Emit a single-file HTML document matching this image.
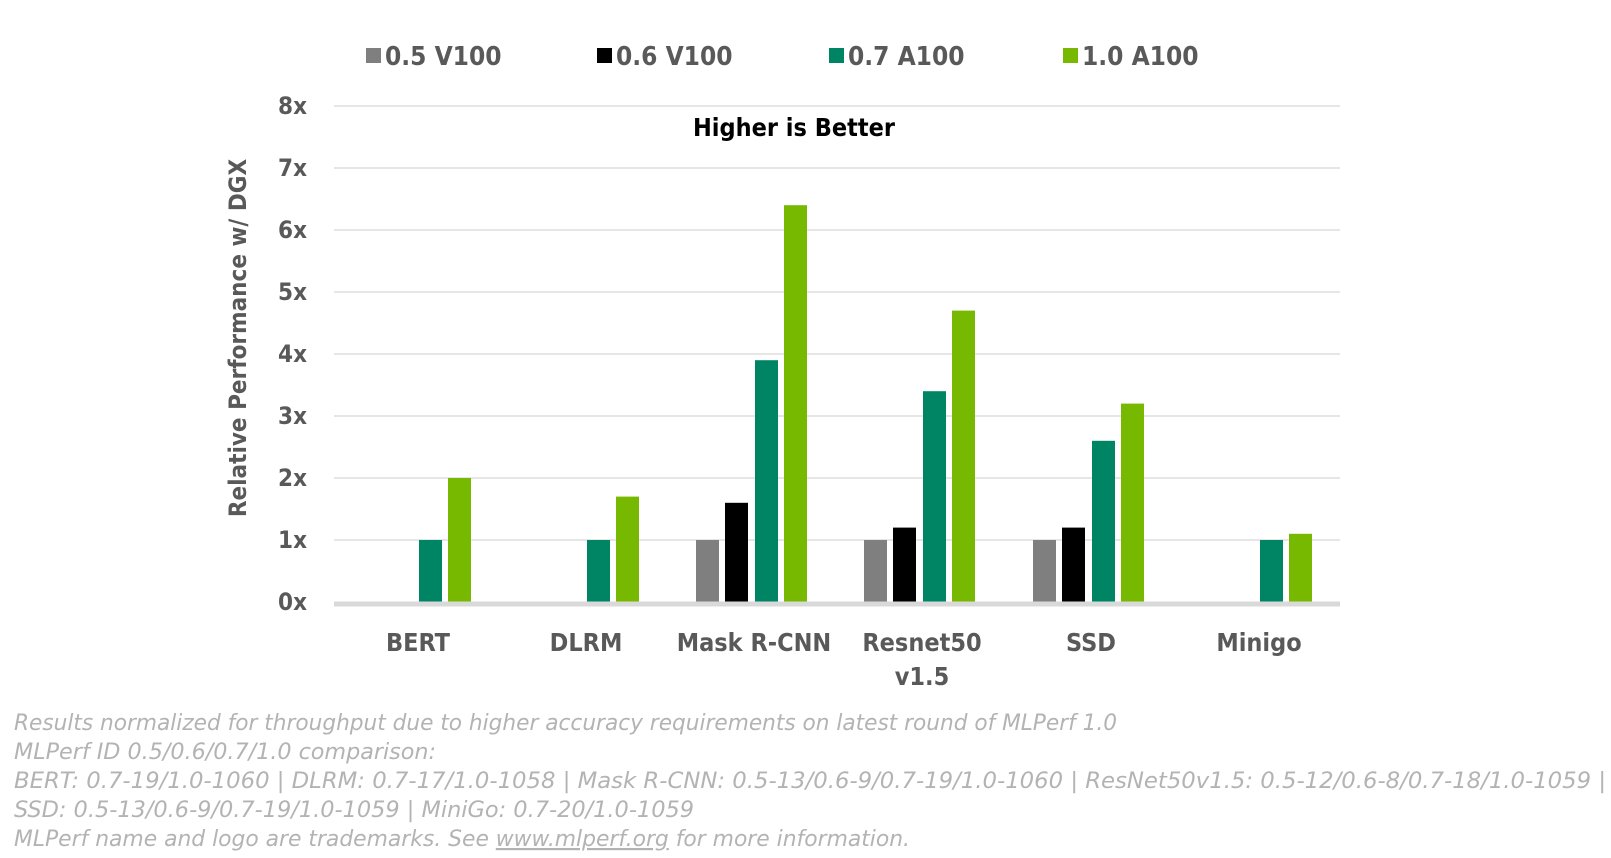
<!DOCTYPE html>
<html><head><meta charset="utf-8"><style>
html,body{margin:0;padding:0;background:#fff;}
svg{display:block;}
</style></head><body>
<svg width="1611" height="858" xmlns="http://www.w3.org/2000/svg" font-family="'DejaVu Sans Condensed','Liberation Sans',sans-serif">
<g stroke="#e6e6e6" stroke-width="2">
<line x1="334" x2="1340" y1="106" y2="106"/>
<line x1="334" x2="1340" y1="168" y2="168"/>
<line x1="334" x2="1340" y1="230" y2="230"/>
<line x1="334" x2="1340" y1="292" y2="292"/>
<line x1="334" x2="1340" y1="354" y2="354"/>
<line x1="334" x2="1340" y1="416" y2="416"/>
<line x1="334" x2="1340" y1="478" y2="478"/>
<line x1="334" x2="1340" y1="540" y2="540"/>
</g>
<g font-size="24" fill="#595959" text-anchor="end" font-weight="bold">
<text x="307" y="114">8x</text>
<text x="307" y="176">7x</text>
<text x="307" y="238">6x</text>
<text x="307" y="300">5x</text>
<text x="307" y="362">4x</text>
<text x="307" y="424">3x</text>
<text x="307" y="486">2x</text>
<text x="307" y="548">1x</text>
<text x="307" y="610">0x</text>
</g>
<text transform="translate(246,338) rotate(-90)" font-size="24" font-weight="bold" fill="#595959" text-anchor="middle">Relative Performance w/ DGX</text>
<text x="794" y="136" font-size="25" font-weight="bold" fill="#000" text-anchor="middle">Higher is Better</text>
<g>
<rect x="419" y="540" width="23" height="62" fill="#008564"/>
<rect x="448" y="478" width="23" height="124" fill="#76b900"/>
<rect x="587" y="540" width="23" height="62" fill="#008564"/>
<rect x="616" y="496.6" width="23" height="105.4" fill="#76b900"/>
<rect x="696" y="540" width="23" height="62" fill="#7f7f7f"/>
<rect x="725" y="502.8" width="23" height="99.2" fill="#000"/>
<rect x="755" y="360.2" width="23" height="241.8" fill="#008564"/>
<rect x="784" y="205.2" width="23" height="396.8" fill="#76b900"/>
<rect x="864" y="540" width="23" height="62" fill="#7f7f7f"/>
<rect x="893" y="527.6" width="23" height="74.4" fill="#000"/>
<rect x="923" y="391.2" width="23" height="210.8" fill="#008564"/>
<rect x="952" y="310.6" width="23" height="291.4" fill="#76b900"/>
<rect x="1033" y="540" width="23" height="62" fill="#7f7f7f"/>
<rect x="1062" y="527.6" width="23" height="74.4" fill="#000"/>
<rect x="1092" y="440.8" width="23" height="161.2" fill="#008564"/>
<rect x="1121" y="403.6" width="23" height="198.4" fill="#76b900"/>
<rect x="1260" y="540" width="23" height="62" fill="#008564"/>
<rect x="1289" y="533.8" width="23" height="68.2" fill="#76b900"/>
</g>
<line x1="334" x2="1340" y1="604" y2="604" stroke="#d9d9d9" stroke-width="5"/>
<g font-size="25" fill="#595959" text-anchor="middle" font-weight="bold">
<text x="418" y="651">BERT</text>
<text x="586" y="651">DLRM</text>
<text x="754" y="651">Mask R-CNN</text>
<text x="922" y="651">Resnet50</text>
<text x="922" y="685">v1.5</text>
<text x="1091" y="651">SSD</text>
<text x="1259" y="651">Minigo</text>
</g>
<g font-size="26" fill="#595959" font-weight="bold">
<rect x="366" y="48" width="15" height="15" fill="#7f7f7f"/><text x="385" y="65">0.5 V100</text>
<rect x="597" y="48" width="15" height="15" fill="#000"/><text x="616" y="65">0.6 V100</text>
<rect x="829" y="48" width="15" height="15" fill="#008564"/><text x="848" y="65">0.7 A100</text>
<rect x="1063" y="48" width="15" height="15" fill="#76b900"/><text x="1082" y="65">1.0 A100</text>
</g>
<g font-size="22" font-style="italic" fill="#b3b3b3">
<text x="14" y="730" textLength="1103" lengthAdjust="spacingAndGlyphs">Results normalized for throughput due to higher accuracy requirements on latest round of MLPerf 1.0</text>
<text x="14" y="759" textLength="422" lengthAdjust="spacingAndGlyphs">MLPerf ID 0.5/0.6/0.7/1.0 comparison:</text>
<text x="14" y="788" textLength="1592" lengthAdjust="spacingAndGlyphs">BERT: 0.7-19/1.0-1060  |  DLRM: 0.7-17/1.0-1058  |  Mask R-CNN: 0.5-13/0.6-9/0.7-19/1.0-1060  |  ResNet50v1.5: 0.5-12/0.6-8/0.7-18/1.0-1059  |</text>
<text x="14" y="817" textLength="680" lengthAdjust="spacingAndGlyphs">SSD: 0.5-13/0.6-9/0.7-19/1.0-1059  |  MiniGo: 0.7-20/1.0-1059</text>
<text x="14" y="846" textLength="896" lengthAdjust="spacingAndGlyphs">MLPerf name and logo are trademarks. See <tspan text-decoration="underline">www.mlperf.org</tspan> for more information.</text>
</g>
</svg>
</body></html>
